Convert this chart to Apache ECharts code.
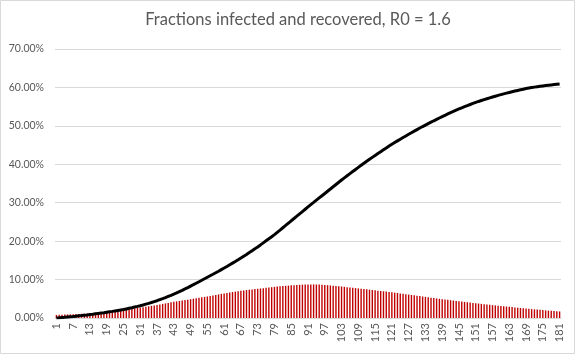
<!DOCTYPE html>
<html>
<head>
<meta charset="utf-8">
<script src="https://cdn.jsdelivr.net/npm/echarts@6/dist/echarts.min.js"></script>
<style>
html,body{margin:0;padding:0;background:#fff;}
#chart{width:576px;height:355px;}
</style>
</head>
<body>
<div id="chart"></div>
<script>
var chartTitle = 'Fractions infected and recovered, R0 = 1.6';

var days = [];
for (var d = 1; d <= 181; d++) days.push(String(d));

var yTicks = [0, 10, 20, 30, 40, 50, 60, 70];

// Fraction infected (%)
var infected = [
  0.80,0.83,0.87,0.90,0.93,0.97,1.00,
  1.03,1.06,1.10,1.13,1.16,1.20,
  1.26,1.33,1.40,1.46,1.53,1.60,
  1.68,1.76,1.85,1.93,2.01,2.10,
  2.20,2.30,2.40,2.50,2.60,2.70,
  2.82,2.93,3.05,3.16,3.28,3.40,
  3.53,3.67,3.80,3.93,4.07,4.20,
  4.32,4.43,4.55,4.67,4.78,4.90,
  5.02,5.13,5.25,5.37,5.48,5.60,
  5.73,5.87,6.00,6.13,6.27,6.40,
  6.52,6.63,6.75,6.87,6.98,7.10,
  7.18,7.27,7.35,7.43,7.52,7.60,
  7.68,7.77,7.85,7.93,8.02,8.10,
  8.17,8.23,8.30,8.37,8.43,8.50,
  8.54,8.58,8.63,8.67,8.71,8.75,
  8.75,8.74,8.72,8.69,8.65,8.60,
  8.54,8.47,8.40,8.34,8.27,8.20,
  8.12,8.03,7.95,7.87,7.78,7.70,
  7.62,7.53,7.45,7.37,7.28,7.20,
  7.12,7.03,6.95,6.87,6.78,6.70,
  6.60,6.50,6.40,6.30,6.20,6.10,
  6.00,5.90,5.80,5.70,5.60,5.50,
  5.40,5.30,5.20,5.10,5.00,4.90,
  4.81,4.72,4.63,4.53,4.44,4.35,
  4.27,4.18,4.10,4.02,3.93,3.85,
  3.77,3.68,3.60,3.52,3.43,3.35,
  3.28,3.20,3.13,3.05,2.98,2.90,
  2.83,2.75,2.68,2.60,2.53,2.45,
  2.38,2.32,2.25,2.18,2.12,2.05,
  1.99,1.93,1.88,1.82,1.76,1.70
];

// Fraction recovered (%)
var recovered = [
  0.00,0.06,0.13,0.19,0.26,0.33,0.40,
  0.48,0.56,0.64,0.73,0.81,0.90,
  0.99,1.09,1.19,1.29,1.39,1.50,
  1.61,1.72,1.84,1.96,2.08,2.20,
  2.36,2.52,2.68,2.85,3.02,3.20,
  3.40,3.61,3.82,4.04,4.27,4.50,
  4.77,5.04,5.32,5.61,5.90,6.20,
  6.53,6.87,7.21,7.56,7.92,8.30,
  8.67,9.05,9.43,9.82,10.21,10.60,
  10.99,11.38,11.78,12.18,12.59,13.00,
  13.42,13.85,14.28,14.71,15.15,15.60,
  16.07,16.54,17.02,17.51,18.00,18.50,
  19.02,19.55,20.08,20.61,21.15,21.70,
  22.29,22.88,23.48,24.08,24.69,25.30,
  25.90,26.50,27.10,27.70,28.30,28.90,
  29.49,30.07,30.66,31.24,31.82,32.40,
  32.99,33.57,34.16,34.74,35.32,35.90,
  36.46,37.02,37.57,38.12,38.66,39.20,
  39.73,40.26,40.78,41.29,41.80,42.30,
  42.80,43.29,43.78,44.26,44.73,45.20,
  45.65,46.09,46.53,46.96,47.38,47.80,
  48.22,48.63,49.03,49.43,49.82,50.20,
  50.58,50.95,51.32,51.68,52.04,52.40,
  52.75,53.09,53.43,53.76,54.08,54.40,
  54.70,54.99,55.28,55.56,55.83,56.10,
  56.35,56.59,56.83,57.06,57.28,57.50,
  57.71,57.92,58.12,58.32,58.51,58.70,
  58.88,59.05,59.22,59.38,59.54,59.70,
  59.83,59.96,60.08,60.19,60.30,60.40,
  60.49,60.58,60.66,60.74,60.82,60.90
];

var chart = echarts.init(document.getElementById('chart'), null, {renderer: 'canvas'});
var font = 'Lato, "Open Sans", "Liberation Sans", sans-serif';
chart.setOption({
  animation: false,
  backgroundColor: '#ffffff',
  title: {
    text: chartTitle,
    left: 293,
    textAlign: 'center',
    top: 6,
    textStyle: {fontFamily: font, fontSize: 16.5, fontWeight: 'normal', color: '#595959'}
  },
  graphic: [{
    type: 'rect',
    shape: {x: 0.5, y: 0.5, width: 574, height: 353},
    style: {fill: 'none', stroke: '#d9d9d9', lineWidth: 1},
    silent: true
  }],
  grid: {left: 55, right: 15, top: 49, bottom: 37, containLabel: false},
  xAxis: {
    type: 'category',
    data: days,
    boundaryGap: true,
    axisLine: {show: true, lineStyle: {color: '#d9d9d9'}},
    axisTick: {show: false},
    axisLabel: {
      interval: 5,
      rotate: 90,
      fontFamily: font,
      fontSize: 11,
      color: '#595959',
      margin: 5
    },
    splitLine: {show: false}
  },
  yAxis: {
    type: 'value',
    min: yTicks[0],
    max: yTicks[yTicks.length - 1],
    interval: 10,
    axisLine: {show: false},
    axisTick: {show: false},
    axisLabel: {
      fontFamily: font,
      fontSize: 10.5,
      color: '#595959',
      margin: 11,
      formatter: function (v) { return v.toFixed(2) + '%'; }
    },
    splitLine: {show: true, lineStyle: {color: '#d9d9d9', width: 1}}
  },
  series: [
    {
      name: 'Infected',
      type: 'bar',
      data: infected,
      barWidth: 1.4,
      itemStyle: {color: '#c00000'},
      z: 2
    },
    {
      name: 'Recovered',
      type: 'line',
      data: recovered,
      showSymbol: false,
      symbol: 'none',
      lineStyle: {color: '#000000', width: 3},
      z: 3
    }
  ]
});
</script>
</body>
</html>
